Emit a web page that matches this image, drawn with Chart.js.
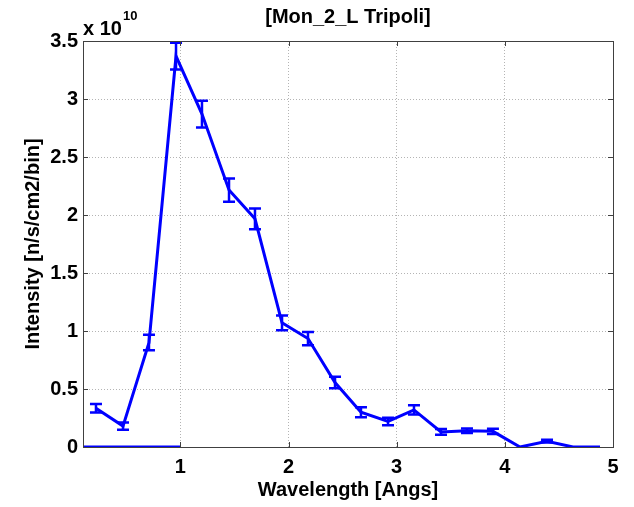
<!DOCTYPE html>
<html>
<head>
<meta charset="utf-8">
<script src="https://cdn.jsdelivr.net/npm/chart.js@4.4.1/dist/chart.umd.min.js"></script>
<style>
  html, body { margin: 0; padding: 0; background: #fff; }
  #wrap { width: 634px; height: 507px; }
</style>
</head>
<body>
<div id="wrap"><canvas id="grafico" width="634" height="507"></canvas></div>
<script>
// valores (intensidad en unidades de 1e10)
const wavelength = [0.22, 0.47, 0.71, 0.96, 1.20, 1.45, 1.69, 1.94, 2.18, 2.43, 2.67, 2.92, 3.16, 3.41, 3.65, 3.89, 4.14, 4.39, 4.63, 4.88];
const intensity = [0.334, 0.18, 0.90, 3.37, 2.87, 2.215, 1.967, 1.07, 0.935, 0.556, 0.30, 0.22, 0.32, 0.13, 0.14, 0.135, 0, 0.05, 0, 0];
const errores = [0.037, 0.032, 0.067, 0.115, 0.115, 0.1, 0.09, 0.063, 0.057, 0.05, 0.043, 0.033, 0.04, 0.025, 0.02, 0.022, 0, 0.012, 0, 0];
const lineaCeroX = [0.1, 1];
const lineaCeroY = [0, 0];
const xTicks = [1, 2, 3, 4, 5];
const ESCALA = 1e10;

const FUENTE = '"Liberation Sans", Arial, Helvetica, sans-serif';
const AZUL = "#0000ff";

const errorBarPlugin = {
  id: "errorBars",
  afterDatasetsDraw(chart) {
    const ctx = chart.ctx;
    const x = chart.scales.x;
    const y = chart.scales.y;
    ctx.save();
    ctx.strokeStyle = AZUL;
    ctx.lineWidth = 2.5;
    wavelength.forEach((w, i) => {
      const e = errores[i];
      if (!e) return;
      const px = x.getPixelForValue(w);
      const top = y.getPixelForValue((intensity[i] + e) * ESCALA);
      const bot = y.getPixelForValue((intensity[i] - e) * ESCALA);
      ctx.beginPath();
      ctx.moveTo(px, top); ctx.lineTo(px, bot);
      ctx.moveTo(px - 6, top); ctx.lineTo(px + 6, top);
      ctx.moveTo(px - 6, bot); ctx.lineTo(px + 6, bot);
      ctx.stroke();
    });
    ctx.restore();
  },
  afterDraw(chart) {
    const ctx = chart.ctx;
    const a = chart.chartArea;
    const x = chart.scales.x;
    const y = chart.scales.y;
    ctx.save();
    // marcas interiores
    ctx.strokeStyle = "#404040";
    ctx.lineWidth = 1;
    ctx.beginPath();
    xTicks.forEach((t) => {
      const px = Math.round(x.getPixelForValue(t)) + 0.5;
      ctx.moveTo(px, a.bottom); ctx.lineTo(px, a.bottom - 5);
      ctx.moveTo(px, a.top); ctx.lineTo(px, a.top + 5);
    });
    y.ticks.forEach((t) => {
      const py = Math.round(y.getPixelForValue(t.value)) + 0.5;
      ctx.moveTo(a.left, py); ctx.lineTo(a.left + 5, py);
      ctx.moveTo(a.right, py); ctx.lineTo(a.right - 5, py);
    });
    ctx.stroke();
    // caja
    ctx.strokeRect(Math.round(a.left) + 0.5, Math.round(a.top) + 0.5,
      Math.round(a.right - a.left), Math.round(a.bottom - a.top));

    // titulo
    ctx.fillStyle = "#000";
    ctx.textAlign = "center";
    ctx.textBaseline = "middle";
    ctx.font = "bold 20px " + FUENTE;
    ctx.fillText("[Mon_2_L Tripoli]", (a.left + a.right) / 2, 17);

    // multiplicador
    ctx.textAlign = "left";
    ctx.textBaseline = "alphabetic";
    ctx.font = "bold 20px " + FUENTE;
    ctx.fillText("x 10", a.left, 35);
    const w = ctx.measureText("x 10").width;
    ctx.font = "bold 13px " + FUENTE;
    ctx.fillText("10", a.left + w + 1, 20);
    ctx.restore();
  },
};

const datosSerie = wavelength.map((w, i) => ({ x: w, y: intensity[i] * ESCALA }));
const datosCero = lineaCeroX.map((w, i) => ({ x: w, y: lineaCeroY[i] * ESCALA }));

new Chart(document.getElementById("grafico"), {
  type: "scatter",
  data: {
    datasets: [
      { data: datosSerie, showLine: true, borderColor: AZUL, borderWidth: 3, pointRadius: 0, fill: false },
      { data: datosCero, showLine: true, borderColor: AZUL, borderWidth: 3, pointRadius: 0, fill: false },
    ],
  },
  options: {
    responsive: false,
    animation: false,
    devicePixelRatio: 1,
    layout: { padding: { left: 0, right: 21, top: 41, bottom: 0 } },
    plugins: { legend: { display: false }, tooltip: { enabled: false } },
    scales: {
      x: {
        type: "linear",
        min: 0.1,
        max: 5,
        afterBuildTicks: (s) => { s.ticks = xTicks.map((v) => ({ value: v })); },
        afterFit: (s) => { s.height = 60; },
        grid: { color: "#b4b4b4", drawTicks: false, lineWidth: 1 },
        border: { display: false, dash: [1, 2] },
        ticks: {
          color: "#000",
          font: { family: FUENTE, size: 20, weight: "bold" },
          padding: 8,
          maxRotation: 0,
          autoSkip: false,
          callback: (v) => String(v),
        },
        title: {
          display: true,
          text: "Wavelength [Angs]",
          color: "#000",
          font: { family: FUENTE, size: 20, weight: "bold" },
          padding: { top: 0, bottom: 5 },
        },
      },
      y: {
        min: 0,
        max: 3.5 * ESCALA,
        afterFit: (s) => { s.width = 83; },
        grid: { color: "#b4b4b4", drawTicks: false, lineWidth: 1 },
        border: { display: false, dash: [1, 2] },
        ticks: {
          stepSize: 0.5 * ESCALA,
          color: "#000",
          font: { family: FUENTE, size: 20, weight: "bold" },
          padding: 5,
          callback: (v) => String(+(v / ESCALA).toFixed(2)),
        },
        title: {
          display: true,
          text: "Intensity [n/s/cm2/bin]",
          color: "#000",
          font: { family: FUENTE, size: 20, weight: "bold" },
          padding: { top: 21, bottom: 0 },
        },
      },
    },
  },
  plugins: [errorBarPlugin],
});
</script>
</body>
</html>
